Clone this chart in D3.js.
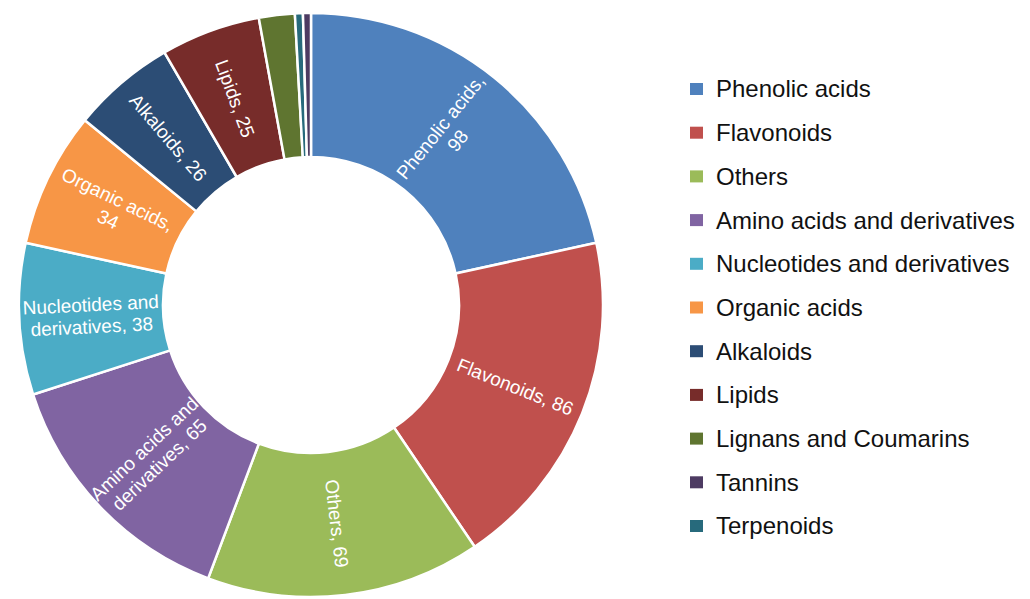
<!DOCTYPE html>
<html>
<head>
<meta charset="utf-8">
<script src="https://cdn.jsdelivr.net/npm/d3@7"></script>
<style>
  html, body { margin: 0; padding: 0; background: #ffffff; }
  svg { display: block; font-family: "Liberation Sans", Arial, sans-serif; }
</style>
</head>
<body>
<svg id="chart" width="1030" height="599"></svg>
<script>
// Metabolite classes (legend order) and their counts
const categories = [
  "Phenolic acids", "Flavonoids", "Others", "Amino acids and derivatives",
  "Nucleotides and derivatives", "Organic acids", "Alkaloids", "Lipids",
  "Lignans and Coumarins", "Tannins", "Terpenoids"
];
const counts = [98, 86, 69, 65, 38, 34, 26, 25, 9, 2, 2];
const colors = [
  "#4f81bd", "#c0504d", "#9bbb59", "#8064a2", "#4bacc6", "#f79646",
  "#2c4d75", "#772c2a", "#5f7530", "#4d3b62", "#276a7c"
];
// Clockwise order of the ring, starting at 12 o'clock
const ringOrder = [0, 1, 2, 3, 4, 5, 6, 7, 8, 10, 9];
// Classes that carry a value label inside the ring
const labelled = [true, true, true, true, true, true, true, true, false, false, false];

const svg = d3.select("#chart");
const cx = 311, cy = 305, outerR = 292, innerR = 148;

const pie = d3.pie().sort(null).value(i => counts[i]);
const arc = d3.arc().innerRadius(innerR).outerRadius(outerR);
const arcs = pie(ringOrder);

const g = svg.append("g").attr("transform", `translate(${cx},${cy})`);

g.selectAll("path.slice")
  .data(arcs)
  .join("path")
  .attr("class", "slice")
  .attr("d", arc)
  .attr("fill", d => colors[d.data])
  .attr("stroke", "#ffffff")
  .attr("stroke-width", 2.5)
  .attr("stroke-linejoin", "round");

// Rotated labels along the radius of each slice
const labelR = (innerR + outerR) / 2;
const fontSize = 19, lineH = 22, wrapWidth = 143;

const labels = g.selectAll("g.lbl")
  .data(arcs.filter(d => labelled[d.data]))
  .join("g")
  .attr("class", "lbl")
  .attr("transform", d => {
    const a = (d.startAngle + d.endAngle) / 2;
    const x = labelR * Math.sin(a), y = -labelR * Math.cos(a);
    let rot = a * 180 / Math.PI - 90;
    if (rot > 90) rot -= 180;
    return `translate(${x},${y}) rotate(${rot})`;
  });

labels.each(function (d) {
  const sel = d3.select(this);
  const words = `${categories[d.data]}, ${counts[d.data]}`.split(" ");
  // greedy wrap using measured text widths
  const probe = sel.append("text").attr("font-size", fontSize);
  const lines = [];
  let cur = "";
  words.forEach(w => {
    const trial = cur ? cur + " " + w : w;
    probe.text(trial);
    if (probe.node().getComputedTextLength() > wrapWidth && cur) {
      lines.push(cur);
      cur = w;
    } else {
      cur = trial;
    }
  });
  lines.push(cur);
  probe.remove();
  const t = sel.append("text")
    .attr("text-anchor", "middle")
    .attr("font-size", fontSize)
    .attr("fill", "#ffffff");
  const y0 = -(lines.length - 1) * lineH / 2;
  lines.forEach((ln, i) => {
    t.append("tspan")
      .attr("x", 0)
      .attr("y", y0 + i * lineH)
      .attr("dy", "0.35em")
      .text(ln);
  });
});

// Legend
const legendY = d3.scalePoint()
  .domain(categories)
  .range([89, 526]);

const legend = svg.append("g").attr("class", "legend");
const items = legend.selectAll("g")
  .data(categories)
  .join("g")
  .attr("transform", d => `translate(690,${legendY(d)})`);

items.append("rect")
  .attr("x", 0).attr("y", -6)
  .attr("width", 13).attr("height", 12)
  .attr("fill", (d, i) => colors[i]);

items.append("text")
  .attr("x", 26)
  .attr("dy", "0.35em")
  .attr("font-size", 24)
  .attr("fill", "#111111")
  .text(d => d);
</script>
</body>
</html>
